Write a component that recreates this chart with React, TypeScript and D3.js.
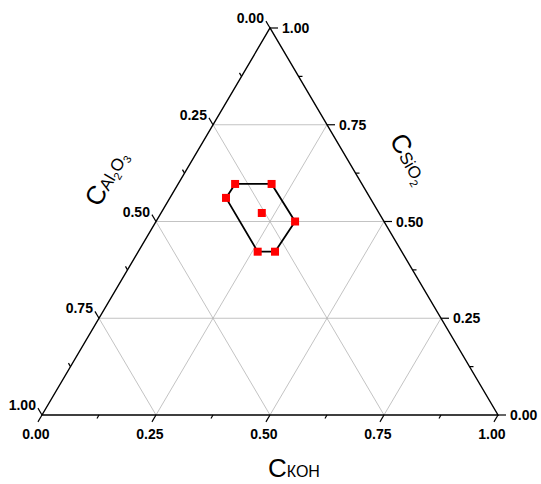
import React from 'react';
import * as d3 from 'd3';

// Axis ticks
const majorTicks = [0, 0.25, 0.5, 0.75, 1];
const majorTickLabels = ['0.00', '0.25', '0.50', '0.75', '1.00'];
const minorTicks = [0.125, 0.375, 0.625, 0.875];
const gridValues = [0.25, 0.5, 0.75];

// Samples (mass fractions): first six form the closed outline, the last one is the centre point
const sampleKOH = [0.125, 0.205, 0.305, 0.300, 0.262, 0.123, 0.221];
const sampleAl2O3 = [0.278, 0.198, 0.195, 0.278, 0.316, 0.316, 0.257];
const sampleSiO2 = [0.597, 0.597, 0.500, 0.422, 0.422, 0.561, 0.522];
const outlineOrder = [0, 1, 2, 3, 4, 5];

const W = 541;
const H = 484;
const FONT = "'Liberation Sans', Arial, sans-serif";

// horizontal position from (KOH + SiO2/2), vertical from SiO2
const xScale = d3.scaleLinear().domain([0, 1]).range([42, 498]);
const yScale = d3.scaleLinear().domain([0, 1]).range([415, 28]);

function proj(k: number, s: number): [number, number] {
  return [xScale(k + s / 2), yScale(s)];
}

const vL = proj(0, 0); // pure Al2O3
const vR = proj(1, 0); // pure KOH
const vT = proj(0, 1); // pure SiO2

function unit(a: [number, number], b: [number, number]): [number, number] {
  const dx = b[0] - a[0];
  const dy = b[1] - a[1];
  const l = Math.hypot(dx, dy);
  return [dx / l, dy / l];
}

// outward tick directions
const dirBottom = unit(vT, vL); // down-left
const dirLeft = unit(vR, vT); // up-left
const dirRight: [number, number] = [1, 0];

const MAJOR = 8;
const MINOR = 4;

export default function App() {
  const line = d3.line<[number, number]>();
  const axisPath = line([vL, vR, vT, vL]) + 'Z';

  const grid: [number, number][][] = [];
  gridValues.forEach((v) => {
    grid.push([proj(v, 0), proj(v, 1 - v)]); // const KOH
    grid.push([proj(0, v), proj(1 - v, v)]); // const SiO2
    grid.push([proj(1 - v, 0), proj(0, 1 - v)]); // const Al2O3
  });

  const ticks: { p: [number, number]; d: [number, number]; len: number }[] = [];
  const addTicks = (vals: number[], len: number) => {
    vals.forEach((v) => {
      ticks.push({ p: proj(v, 0), d: dirBottom, len });
      ticks.push({ p: proj(0, 1 - v), d: dirLeft, len });
      ticks.push({ p: proj(1 - v, v), d: dirRight, len });
    });
  };
  addTicks(majorTicks, MAJOR);
  addTicks(minorTicks, MINOR);

  const pts = sampleKOH.map((k, i) => proj(k, sampleSiO2[i]));
  const outline = line(outlineOrder.map((i) => pts[i])) + 'Z';

  return (
    <svg
      width={W}
      height={H}
      style={{ position: 'absolute', left: 0, top: 0, background: '#fff' }}
      fontFamily={FONT}
    >
      <rect x={0} y={0} width={W} height={H} fill="#fff" />
      {grid.map((g, i) => (
        <line
          key={'g' + i}
          x1={g[0][0]}
          y1={g[0][1]}
          x2={g[1][0]}
          y2={g[1][1]}
          stroke="#b4b4b4"
          strokeWidth={0.8}
        />
      ))}
      <path d={axisPath} fill="none" stroke="#000" strokeWidth={1.4} strokeLinejoin="miter" />
      {ticks.map((t, i) => (
        <line
          key={'t' + i}
          x1={t.p[0]}
          y1={t.p[1]}
          x2={t.p[0] + t.d[0] * t.len}
          y2={t.p[1] + t.d[1] * t.len}
          stroke="#000"
          strokeWidth={1.2}
        />
      ))}
      {/* bottom labels: KOH */}
      {majorTicks.map((v, i) => {
        const p = proj(v, 0);
        const x = p[0] + dirBottom[0] * MAJOR - 2;
        const y = p[1] + dirBottom[1] * MAJOR + 17;
        return (
          <text key={'b' + i} x={x} y={y} textAnchor="middle" fontSize={14} fontWeight="bold">
            {majorTickLabels[i]}
          </text>
        );
      })}
      {/* left labels: Al2O3 */}
      {majorTicks.map((v, i) => {
        const p = proj(0, 1 - v);
        const x = p[0] + dirLeft[0] * MAJOR - 2;
        const y = p[1] + dirLeft[1] * MAJOR + 2;
        return (
          <text key={'l' + i} x={x} y={y} textAnchor="end" fontSize={14} fontWeight="bold">
            {majorTickLabels[i]}
          </text>
        );
      })}
      {/* right labels: SiO2 */}
      {majorTicks.map((v, i) => {
        const p = proj(1 - v, v);
        const x = p[0] + MAJOR + 4;
        const y = p[1] + 5;
        return (
          <text key={'r' + i} x={x} y={y} textAnchor="start" fontSize={14} fontWeight="bold">
            {majorTickLabels[i]}
          </text>
        );
      })}

      <path d={outline} fill="none" stroke="#000" strokeWidth={1.8} strokeLinejoin="round" />
      {pts.map((p, i) => (
        <rect key={'p' + i} x={p[0] - 4} y={p[1] - 4} width={8} height={8} fill="#ff0000" />
      ))}

      {/* titles */}
      <text x={268} y={477} fill="#000">
        <tspan fontSize={26}>C</tspan>
        <tspan fontSize={16}>КОН</tspan>
      </text>
      <text transform="translate(99,208) rotate(-60)" fill="#000">
        <tspan fontSize={26}>C</tspan>
        <tspan fontSize={17}>Al</tspan>
        <tspan fontSize={11} dy={4}>2</tspan>
        <tspan fontSize={17} dy={-4}>O</tspan>
        <tspan fontSize={11} dy={4}>3</tspan>
      </text>
      <text transform="translate(389,140) rotate(60)" fill="#000">
        <tspan fontSize={26}>C</tspan>
        <tspan fontSize={17}>SiO</tspan>
        <tspan fontSize={11} dy={4}>2</tspan>
      </text>
    </svg>
  );
}
